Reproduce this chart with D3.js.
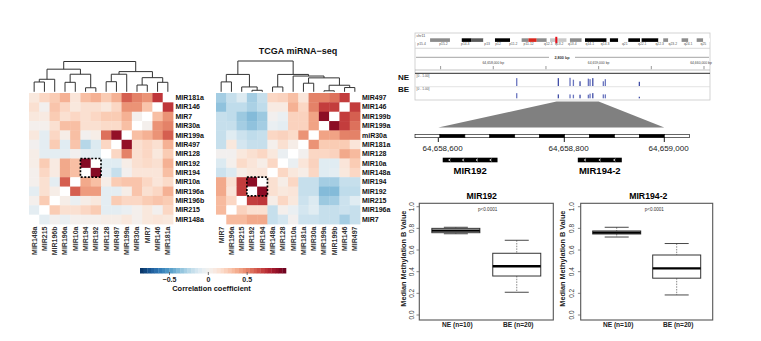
<!DOCTYPE html>
<html><head><meta charset="utf-8">
<script src="https://cdn.jsdelivr.net/npm/d3@7"></script>
<style>body{margin:0;background:#fff}svg{display:block}text{font-family:"Liberation Sans",Arial,sans-serif}</style>
</head><body><svg id="c" width="761" height="341"></svg>
<script>
// ---------------- DATA ----------------
const leftRows = ["MIR181a","MIR146","MIR7","MIR30a","MIR199a","MIR497","MIR128","MIR192","MIR194","MIR10a","MIR196a","MIR196b","MIR215","MIR148a"];
const leftCols = ["MIR148a","MIR215","MIR196b","MIR196a","MIR10a","MIR194","MIR192","MIR128","MIR497","MIR199a","MIR30a","MIR7","MIR146","MIR181a"];
const leftValues = [
 [0.10,0.20,0.25,0.35,0.12,0.30,0.35,0.25,0.35,0.60,0.50,0.45,0.72,null],
 [0.15,0.00,0.28,0.20,0.10,0.15,0.15,0.10,0.20,0.45,0.45,0.28,null,0.72],
 [0.10,0.08,0.25,0.15,0.20,0.15,0.20,0.25,0.25,0.35,0.02,null,0.30,0.45],
 [0.02,0.02,0.15,0.30,0.30,0.15,0.15,0.18,0.18,0.30,null,0.02,0.45,0.50],
 [0.10,-0.08,0.20,0.05,0.30,0.00,0.05,0.55,0.88,null,0.30,0.35,0.45,0.60],
 [0.00,-0.08,0.25,-0.10,0.28,-0.25,-0.12,0.20,null,0.88,0.15,0.20,0.15,0.35],
 [0.05,-0.08,-0.08,-0.08,0.00,-0.08,-0.10,null,0.20,0.50,0.15,0.20,0.10,0.25],
 [0.05,0.25,0.08,0.38,0.30,0.92,null,-0.10,-0.10,0.05,0.15,0.18,0.15,0.35],
 [0.02,0.20,0.08,0.38,0.30,null,0.92,-0.08,-0.20,0.00,0.12,0.12,0.12,0.30],
 [0.02,0.15,-0.08,0.60,null,0.38,0.30,0.05,0.25,0.28,0.28,0.20,0.12,0.18],
 [-0.08,0.15,0.05,null,0.60,0.42,0.42,-0.08,-0.08,0.05,0.28,0.15,0.20,0.35],
 [0.02,0.25,null,0.05,-0.05,0.05,0.10,-0.08,0.25,0.20,0.20,0.25,0.28,0.25],
 [-0.08,null,0.25,0.15,0.15,0.20,0.25,-0.08,-0.08,-0.05,0.02,0.10,0.00,0.20],
 [null,-0.08,0.00,-0.05,0.02,0.02,0.02,0.05,0.05,0.10,0.02,0.10,0.12,0.10]
];
// dendrogram merges: [childA, childB, height]; numbers = leaf columns, "mK" = K-th merge
const leftMerges = [[0,1,9.7],["m0",2,12.4],[3,4,9.4],[5,6,4],["m2","m3",17.4],["m1","m4",22.4],
 [7,8,10],["m6",9,17.4],[10,11,6.7],[12,13,9.4],["m8","m9",14],["m7","m10",20],["m5","m11",30]];
const leftBox = ["MIR192","MIR194"];

const midRows = ["MIR497","MIR146","MIR199b","MIR199a","miR30a","MIR181a","MIR128","MIR10a","MIR148a","MIR194","MIR192","MIR215","MIR196a","MIR7"];
const midCols = ["MIR7","MIR196a","MIR215","MIR192","MIR194","MIR148a","MIR128","MIR10a","MIR181a","MIR30a","MIR199a","MIR199b","MIR146","MIR497"];
const midValues = [
 [-0.30,-0.20,-0.12,-0.30,-0.20,0.20,0.22,0.30,0.12,0.50,0.50,0.55,0.70,null],
 [-0.35,-0.22,-0.22,-0.28,-0.22,0.08,0.08,0.35,0.20,0.50,0.70,0.70,null,0.70],
 [-0.20,-0.22,-0.32,-0.38,-0.32,0.00,-0.05,0.22,0.22,0.40,0.90,null,0.70,0.60],
 [-0.20,-0.20,-0.30,-0.35,-0.30,-0.05,-0.08,0.22,0.22,0.40,null,0.90,0.70,0.55],
 [-0.20,-0.10,-0.18,-0.22,-0.20,0.20,0.22,0.18,0.45,null,0.40,0.40,0.50,0.50],
 [-0.20,0.10,-0.15,-0.20,-0.20,0.02,0.15,0.05,null,0.45,0.25,0.25,0.25,0.12],
 [0.00,0.00,0.10,0.15,0.20,0.10,-0.05,null,0.00,0.20,0.20,0.22,0.38,0.32],
 [-0.12,0.02,0.18,0.12,0.05,0.20,null,-0.05,0.12,0.22,-0.10,-0.10,0.12,0.25],
 [-0.18,-0.12,0.05,0.10,0.12,null,0.20,0.10,0.05,0.20,-0.10,-0.08,0.10,0.20],
 [0.38,0.15,0.70,0.90,null,0.15,0.05,0.20,-0.20,-0.20,-0.30,-0.30,-0.20,-0.20],
 [0.38,0.12,0.70,null,0.90,0.15,0.10,0.12,-0.20,-0.20,-0.38,-0.38,-0.22,-0.22],
 [0.32,0.20,null,0.70,0.72,0.05,0.20,0.10,-0.18,-0.12,-0.32,-0.30,-0.18,-0.10],
 [0.32,null,0.22,0.15,0.15,-0.20,0.02,-0.05,-0.15,-0.10,-0.20,-0.20,-0.18,-0.20],
 [null,0.32,0.32,0.38,0.38,-0.20,-0.15,0.00,-0.18,-0.18,-0.20,-0.20,-0.30,-0.20]
];
const midMerges = [[0,1,9.8],[3,4,1.5],[2,"m1",4.8],["m0","m2",17.2],
 [5,6,4.8],[8,9,8.5],[10,11,1],[12,13,4.2],["m6","m7",6.5],["m5","m8",13.8],[7,"m9",15.6],["m4","m10",17.2],["m3","m11",30.5]];
const midBox = ["MIR194","MIR192"];
const midTitle = "TCGA miRNA\u2212seq";

const colorDomain = [-0.88, 0, 1];
const colorTicks = [-0.5, 0, 0.5];
const colorTitle = "Correlation coefficient";

// genome browser
const chromName = "chr11";
const bandStarts = [0,6.9,16,21.4,25.9,31.3,36.6,43.5,48.8,51.9,55.7,60.3,61.8,65.6,69.4,70.9,76.3,77.8,87.7,89.2,93,97.6,103,103.7,111.4,113.6,115.9,122,125.1,128.9,131.9];
const bandEnds   = [6.9,16,21.4,25.9,31.3,36.6,43.5,48.8,51.9,55.7,60.3,61.8,65.6,69.4,70.9,76.3,77.8,87.7,89.2,93,97.6,103,103.7,111.4,113.6,115.9,122,125.1,128.9,131.9,135];
const bandStains = ["gneg","gpos50","gneg","gpos100","gpos75","gneg","gpos100","gneg","gpos50","acen","gpos50","gneg","gpos25","gpos25","gneg","gpos50","gneg","gpos100","gneg","gpos100","gneg","gpos100","gneg","gpos100","gneg","gpos50","gneg","gpos50","gneg","gpos50","gneg"];
const bandLabelPos = [3,13,23,33,38,45,52,61,66,72,80,87,96,104,112,118,125,132];
const bandLabels = ["p15.4","p15.2","p14.3","p13","p12","p11.2","p11.12","q12.1","q13.2","q13.4","q14.1","q14.3","q21","q22.1","q22.3","q23.2","q24.1","q25"];
const locusMb = 64.66;
const viewStart = 64657257, viewEnd = 64660057;
const windowLabel = "2,800 bp";
const rulerTicks = [64657500,64658000,64658500,64659000,64659500,64660000];
const rulerLabels = [64658000,64659000,64660000];
const probePos = [64658222,64658617,64658728,64658760,64658823,64658902,64658918,64658944,64659044,64659063,64659386];
const probeNE  = [0.75,0.75,0.78,0.60,0.45,0.70,0.65,0.75,0.45,0.65,0.40];
const probeBE  = [0.50,0.38,0.38,0.35,0.35,0.35,0.45,0.50,0.38,0.38,0.15];
const trackNames = ["NE","BE"];
const trackRange = "[0 - 1.00]";
const zoomStart = 64658600, zoomEnd = 64659000;
const zoomTicks = [64658600,64658800,64659000];
const geneNames = ["MIR192","MIR194-2"];
const geneStarts = [64658607,64658827];
const geneEnds = [64658694,64658915];
const geneArrows = [4,3];

// box plots
const boxGroups = ["NE (n=10)","BE (n=20)"];
const boxTitles = ["MIR192","MIR194-2"];
const mir192Box  = [[0.75,0.76,0.78,0.80,0.81],[0.21,0.36,0.45,0.57,0.69]];
const mir1942Box = [[0.72,0.748,0.76,0.776,0.81],[0.185,0.34,0.43,0.554,0.66]];
const boxTicks = [0,0.2,0.4,0.6,0.8,1.0];
const boxYLabel = "Median Methylation B Value";
const pText = "p<0.0001";

// ---------------- DRAW ----------------
const svg = d3.select("#c");
const color = d3.scaleDiverging(t => d3.interpolateRdBu(1 - t)).domain(colorDomain);

function heatmap(rows, cols, values, merges, boxNames, x0, x1, y0, y1, dTop, labelX) {
  const g = svg.append("g");
  const xs = d3.scaleBand(d3.range(cols.length), [x0, x1]);
  const ys = d3.scaleBand(d3.range(rows.length), [y0, y1]);
  values.forEach((row, r) => row.forEach((v, c) => {
    g.append("rect").attr("x", xs(c)).attr("y", ys(r))
      .attr("width", xs.bandwidth() + 0.4).attr("height", ys.bandwidth() + 0.4)
      .attr("fill", v == null ? "#ffffff" : color(v));
  }));
  rows.forEach((n, r) => g.append("text").attr("x", labelX).attr("y", ys(r) + ys.bandwidth() / 2)
    .attr("dy", "0.35em").attr("font-size", 7).attr("font-weight", "bold").attr("fill", "#111").text(n));
  cols.forEach((n, c) => {
    const cx = xs(c) + xs.bandwidth() / 2, cy = y1 + 2.5;
    g.append("text").attr("transform", `translate(${cx},${cy}) rotate(-90)`).attr("text-anchor", "end")
      .attr("dy", "0.35em").attr("font-size", 7).attr("font-weight", "bold").attr("fill", "#333").text(n);
  });
  const maxH = d3.max(merges, d => d[2]);
  const yd = d3.scaleLinear([0, maxH], [y0 - 1.2, dTop]);
  const nodes = [];
  const get = id => typeof id === "number" ? {x: xs(id) + xs.bandwidth() / 2, h: 0} : nodes[+id.slice(1)];
  merges.forEach(([a, b, h]) => {
    const A = get(a), B = get(b);
    g.append("path").attr("d", `M${A.x},${yd(A.h)}V${yd(h)}H${B.x}V${yd(B.h)}`)
      .attr("fill", "none").attr("stroke", "#333").attr("stroke-width", 1);
    nodes.push({x: (A.x + B.x) / 2, h});
  });
  const ri = boxNames.map(n => rows.indexOf(n)), ci = boxNames.map(n => cols.indexOf(n));
  const rx0 = xs(d3.min(ci)), rx1 = xs(d3.max(ci)) + xs.bandwidth();
  const ry0 = ys(d3.min(ri)), ry1 = ys(d3.max(ri)) + ys.bandwidth();
  g.append("rect").attr("x", rx0).attr("y", ry0).attr("width", rx1 - rx0).attr("height", ry1 - ry0)
    .attr("fill", "none").attr("stroke", "#000").attr("stroke-width", 1.7).attr("stroke-dasharray", "2,1.6");
}
heatmap(leftRows, leftCols, leftValues, leftMerges, leftBox, 29, 173, 93, 224, 61.5, 175.5);
heatmap(midRows, midCols, midValues, midMerges, midBox, 216, 360, 93, 224, 61, 362);
svg.append("text").attr("x", 298).attr("y", 54).attr("text-anchor", "middle").attr("font-size", 9)
  .attr("font-weight", "bold").attr("fill", "#111").text(midTitle);

// colour bar
{
  const cb = d3.scaleLinear([colorDomain[0], colorDomain[2]], [140, 286]);
  const steps = d3.range(40).map(i => colorDomain[0] + (colorDomain[2] - colorDomain[0]) * i / 40);
  const w = (286 - 140) / 40;
  steps.forEach(v => svg.append("rect").attr("x", cb(v)).attr("y", 268).attr("width", w + 0.3).attr("height", 5.5)
    .attr("fill", color(v + (colorDomain[2] - colorDomain[0]) / 80)));
  colorTicks.forEach(t => {
    svg.append("line").attr("x1", cb(t)).attr("x2", cb(t)).attr("y1", 272).attr("y2", 275).attr("stroke", "#555").attr("stroke-width", 0.8);
    svg.append("text").attr("x", cb(t)).attr("y", 281.5).attr("text-anchor", "middle").attr("font-size", 7)
      .attr("font-weight", "bold").attr("fill", "#222").text(t === 0 ? "0" : (t < 0 ? "\u2212" : "") + Math.abs(t).toFixed(1));
  });
  svg.append("text").attr("x", 211.5).attr("y", 291).attr("text-anchor", "middle").attr("font-size", 7.4)
    .attr("font-weight", "bold").attr("fill", "#111").text(colorTitle);
}

// genome browser
{
  const g = svg.append("g");
  const L = 415, R = 710;
  const ix = d3.scaleLinear([0, 135], [L, R]);
  const stain = {gneg: "#ffffff", gpos25: "#c8c8c8", gpos50: "#8c8c8c", gpos75: "#5a5a5a", gpos100: "#000000", acen: "#d9261c"};
  g.append("rect").attr("x", L).attr("y", 33).attr("width", R - L).attr("height", 67).attr("fill", "none").attr("stroke", "#c8c8c8").attr("stroke-width", 0.8);
  g.append("text").attr("x", L + 1.5).attr("y", 36.8).attr("font-size", 3.6).attr("fill", "#444").text(chromName);
  bandStarts.forEach((s, i) => g.append("rect").attr("x", ix(s)).attr("y", 38.3).attr("width", ix(bandEnds[i]) - ix(s)).attr("height", 3.6).attr("fill", stain[bandStains[i]]));
  g.append("rect").attr("x", ix(locusMb) - 1).attr("y", 36.8).attr("width", 2).attr("height", 6.5).attr("fill", "#e8101a");
  bandLabels.forEach((t, i) => g.append("text").attr("x", ix(bandLabelPos[i])).attr("y", 45.3).attr("text-anchor", "middle").attr("font-size", 3.4).attr("fill", "#555").text(t));
  g.append("line").attr("x1", L).attr("x2", R).attr("y1", 48.3).attr("y2", 48.3).attr("stroke", "#d0d0d0").attr("stroke-width", 0.8);
  const lx = d3.scaleLinear([viewStart, viewEnd], [L, R]);
  g.append("line").attr("x1", L + 1).attr("x2", R - 1).attr("y1", 57.3).attr("y2", 57.3).attr("stroke", "#666").attr("stroke-width", 0.6);
  g.append("rect").attr("x", 549).attr("y", 54).attr("width", 26).attr("height", 6).attr("fill", "#fff");
  g.append("text").attr("x", 562).attr("y", 58.6).attr("text-anchor", "middle").attr("font-size", 3.8).attr("font-weight", "bold").attr("fill", "#333").text(windowLabel);
  rulerTicks.forEach(t => g.append("line").attr("x1", lx(t)).attr("x2", lx(t)).attr("y1", 66).attr("y2", 69.3).attr("stroke", "#555").attr("stroke-width", 0.6));
  rulerLabels.forEach(t => g.append("text").attr("x", Math.min(lx(t), R - 9)).attr("y", 64.2).attr("text-anchor", "middle").attr("font-size", 3.4).attr("fill", "#444").text(d3.format(",")(t) + " bp"));
  g.append("line").attr("x1", L).attr("x2", R).attr("y1", 70).attr("y2", 70).attr("stroke", "#aaa").attr("stroke-width", 0.7);
  g.append("line").attr("x1", L).attr("x2", R).attr("y1", 73.3).attr("y2", 73.3).attr("stroke", "#555").attr("stroke-width", 1.2);
  g.append("line").attr("x1", L).attr("x2", R).attr("y1", 86.7).attr("y2", 86.7).attr("stroke", "#d8d8d8").attr("stroke-width", 0.7);
  const tracks = [[probeNE, 86, 75.5], [probeBE, 98.3, 88]];
  tracks.forEach(([vals, base, top], k) => {
    const ty = d3.scaleLinear([0, 1], [base, top]);
    g.append("text").attr("x", L + 1.5).attr("y", top + 1.8).attr("font-size", 3.3).attr("fill", "#555").text(trackRange);
    vals.forEach((v, i) => g.append("rect").attr("x", lx(probePos[i]) - 0.6).attr("y", ty(v)).attr("width", 1.3).attr("height", base - ty(v))
      .attr("fill", i % 3 === 1 ? "#2b3a9c" : "#5a66b8").attr("opacity", 0.9));
    g.append("text").attr("x", 398).attr("y", base - 6.5).attr("font-size", 8).attr("font-weight", "bold").attr("fill", "#111").text(trackNames[k]);
  });
  const zx = d3.scaleLinear(zoomTicks, [438.3, 564.3, 664.3]);
  g.append("path").attr("d", `M${lx(zoomStart)},101.5L${lx(zoomEnd)},101.5L${zx(zoomEnd)},127.5L${zx(zoomStart)},127.5Z`).attr("fill", "#808080");
  const sb0 = 415, sb1 = 689.3, n = 11, sw = (sb1 - sb0) / n;
  d3.range(n).forEach(i => g.append("rect").attr("x", sb0 + i * sw).attr("y", 134.3).attr("width", sw).attr("height", 3.4)
    .attr("fill", i % 2 ? "#000" : "#fff").attr("stroke", "#000").attr("stroke-width", 0.6));
  zoomTicks.forEach(t => {
    g.append("line").attr("x1", zx(t)).attr("x2", zx(t)).attr("y1", 137.7).attr("y2", 142).attr("stroke", "#000").attr("stroke-width", 0.9);
    g.append("text").attr("x", zx(t) + 4.3).attr("y", 151).attr("text-anchor", "middle").attr("font-size", 8).attr("fill", "#222").text(d3.format(",")(t));
  });
  geneNames.forEach((nm, i) => {
    const a = zx(geneStarts[i]), b = zx(geneEnds[i]);
    g.append("rect").attr("x", a).attr("y", 157.7).attr("width", b - a).attr("height", 4.6).attr("fill", "#000");
    d3.range(geneArrows[i]).forEach(j => {
      const cx = a + (b - a) * (j + 0.5) / geneArrows[i];
      g.append("path").attr("d", `M${cx + 0.9},158.9L${cx - 0.9},160L${cx + 0.9},161.1`).attr("fill", "none").attr("stroke", "#fff").attr("stroke-width", 0.8);
    });
    g.append("text").attr("x", (a + b) / 2).attr("y", 174).attr("text-anchor", "middle").attr("font-size", 9.5).attr("font-weight", "bold").attr("fill", "#000").text(nm);
  });
}

// box plots
function boxplot(stats, title, fx0, fx1, tickX, labX, titleX) {
  const g = svg.append("g");
  const fy0 = 203.3, fy1 = 320;
  const y = d3.scaleLinear([0, 1], [315, 206.7]);
  const x = d3.scalePoint(boxGroups, [fx0, fx1]).padding(0.6);
  const bw = 48;
  g.append("text").attr("x", titleX).attr("y", 199.3).attr("text-anchor", "middle").attr("font-size", 8.7).attr("font-weight", "bold").attr("fill", "#000").text(title);
  g.append("text").attr("x", titleX + 6).attr("y", 211).attr("text-anchor", "middle").attr("font-size", 4.6).attr("fill", "#333").text(pText);
  stats.forEach((s, i) => {
    const cx = x(boxGroups[i]);
    const [mn, q1, md, q3, mx] = s;
    g.append("line").attr("x1", cx).attr("x2", cx).attr("y1", y(mx)).attr("y2", y(q3)).attr("stroke", "#555").attr("stroke-width", 0.7).attr("stroke-dasharray", "1.5,1.2");
    g.append("line").attr("x1", cx).attr("x2", cx).attr("y1", y(q1)).attr("y2", y(mn)).attr("stroke", "#555").attr("stroke-width", 0.7).attr("stroke-dasharray", "1.5,1.2");
    [mn, mx].forEach(v => g.append("line").attr("x1", cx - bw / 4).attr("x2", cx + bw / 4).attr("y1", y(v)).attr("y2", y(v)).attr("stroke", "#333").attr("stroke-width", 0.9));
    g.append("rect").attr("x", cx - bw / 2).attr("y", y(q3)).attr("width", bw).attr("height", y(q1) - y(q3)).attr("fill", "#fff").attr("stroke", "#333").attr("stroke-width", 1);
    g.append("line").attr("x1", cx - bw / 2).attr("x2", cx + bw / 2).attr("y1", y(md)).attr("y2", y(md)).attr("stroke", "#000").attr("stroke-width", 2.3);
    g.append("text").attr("x", cx + 1.5).attr("y", 326.7).attr("text-anchor", "middle").attr("font-size", 6.6).attr("font-weight", "bold").attr("fill", "#222").text(boxGroups[i]);
  });
  g.append("rect").attr("x", fx0).attr("y", fy0).attr("width", fx1 - fx0).attr("height", fy1 - fy0).attr("fill", "none").attr("stroke", "#555").attr("stroke-width", 1.1);
  boxTicks.forEach(t => {
    g.append("line").attr("x1", fx0 - 2.8).attr("x2", fx0).attr("y1", y(t)).attr("y2", y(t)).attr("stroke", "#555").attr("stroke-width", 0.7);
    g.append("text").attr("transform", `translate(${tickX},${y(t)}) rotate(-90)`).attr("text-anchor", "middle").attr("dy", "0.35em")
      .attr("font-size", 6.5).attr("fill", "#333").text(t.toFixed(1));
  });
  g.append("text").attr("transform", `translate(${labX},${(fy0 + fy1) / 2 - 3}) rotate(-90)`).attr("text-anchor", "middle").attr("dy", "0.35em")
    .attr("font-size", 7.3).attr("font-weight", "bold").attr("fill", "#222").text(boxYLabel);
}
boxplot(mir192Box, boxTitles[0], 419.3, 553.3, 411.7, 403.5, 481.7);
boxplot(mir1942Box, boxTitles[1], 580.7, 712.7, 571.7, 562, 648.3);
</script></body></html>
